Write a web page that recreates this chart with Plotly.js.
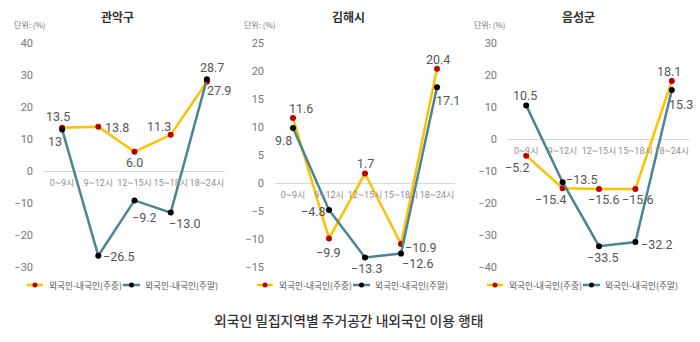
<!DOCTYPE html>
<html><head><meta charset="utf-8">
<script src="https://cdn.plot.ly/plotly-3.0.1.min.js"></script>
<style>html,body{margin:0;padding:0;background:#fff}#c{width:700px;height:342px}</style>
</head><body><div id="c"></div>
<script>
const categories = ["0~9시","9~12시","12~15시","15~18시","18~24시"];
const regions = ["관악구","김해시","음성군"];
const weekdayName = "외국인-내국인(주중)";
const weekendName = "외국인-내국인(주말)";
const gwanakWeekday = [13.5, 13.8, 6.0, 11.3, 27.9];
const gwanakWeekend = [13, -26.5, -9.2, -13.0, 28.7];
const gimhaeWeekday = [11.6, -9.9, 1.7, -10.9, 20.4];
const gimhaeWeekend = [9.8, -4.8, -13.3, -12.6, 17.1];
const eumseongWeekday = [-5.2, -15.4, -15.6, -15.6, 18.1];
const eumseongWeekend = [10.5, -13.5, -33.5, -32.2, 15.3];
const mainTitle = "외국인 밀집지역별 주거공간 내외국인 이용 행태";
const unitLabel = "단위: (%)";

const W = 700, H = 342;
const px = x => x / W, py = y => (H - y) / H;
const FONT = "Noto Sans CJK KR, Noto Sans, sans-serif";
const NUMFONT = "Roboto, Noto Sans, sans-serif";
const TICKFONT = "Roboto, Noto Sans CJK KR, sans-serif";
const YELLOW = "#FFC000", TEAL = "#4A8595", RED = "#C00000", BLACK = "#000000";

// label offsets (dx, dy in px; dy positive = down)
const panels = [
  {wd: gwanakWeekday, we: gwanakWeekend, xd: [44, 225], yr: [-30, 40], dt: 10, off: 0, titleX: 117,
   wdOff: [[-4,-11],[19,1],[0,11],[-12,-8],[12,9]],
   weOff: [[-7,12],[21,1],[10,17],[14,11],[5,-12]]},
  {wd: gimhaeWeekday, we: gimhaeWeekend, xd: [275, 455], yr: [-15, 25], dt: 5, off: 230, titleX: 348,
   wdOff: [[8,-10],[-1,14],[0,-10],[20,3],[1,-9]],
   weOff: [[-10,12],[-16,2],[2,11],[17,10],[11,13]]},
  {wd: eumseongWeekday, we: eumseongWeekend, xd: [508, 690], yr: [-40, 30], dt: 10, off: 460, titleX: 578,
   wdOff: [[-9,12],[-12,11],[5,11],[3,11],[-3,-10]],
   weOff: [[-1,-10],[19,-3],[4,11],[22,2],[9,14]]}
];
const yDom = [py(267), py(43)];
const lab = v => v === 13 ? "13" : (v < 0 ? "−" : "") + Math.abs(v).toFixed(1);

const data = [], layout = {
  width: W, height: H, margin: {l: 0, r: 0, t: 0, b: 0},
  paper_bgcolor: "#fff", plot_bgcolor: "#fff", showlegend: false,
  font: {family: FONT, color: "#555"}, annotations: [], shapes: []
};
panels.forEach((p, i) => {
  const n = i === 0 ? "" : String(i + 1);
  const zeroFrac = (0 - p.yr[0]) / (p.yr[1] - p.yr[0]);
  layout["xaxis" + n] = {
    domain: [px(p.xd[0]), px(p.xd[1])], range: [-0.5, 4.5], type: "category",
    anchor: "free", position: yDom[0] + zeroFrac * (yDom[1] - yDom[0]),
    showgrid: false, zeroline: false, showline: false, ticks: "", tickangle: 0,
    tickfont: {size: 9, color: "#8f8f8f", family: TICKFONT}, ticklabelstandoff: 5, fixedrange: true
  };
  layout["yaxis" + n] = {
    domain: yDom, range: p.yr, dtick: p.dt, tick0: 0, anchor: "x" + n,
    showgrid: false, zeroline: true, zerolinecolor: "#d9d9d9", zerolinewidth: 1,
    showline: false, ticks: "", ticklabelstandoff: 10,
    tickfont: {size: 11, color: "#777", family: NUMFONT}, fixedrange: true
  };
  data.push({
    type: "scatter", mode: "lines+markers", x: categories, y: p.wd, name: weekdayName,
    xaxis: "x" + n, yaxis: "y" + n, cliponaxis: false,
    line: {color: YELLOW, width: 2.5}, marker: {color: RED, size: 6}
  });
  data.push({
    type: "scatter", mode: "lines+markers", x: categories, y: p.we, name: weekendName,
    xaxis: "x" + n, yaxis: "y" + n, cliponaxis: false,
    line: {color: TEAL, width: 2.5}, marker: {color: BLACK, size: 6}
  });
  [[p.wd, p.wdOff], [p.we, p.weOff]].forEach(([vals, offs]) => {
    vals.forEach((v, k) => {
      layout.annotations.push({xref: "x" + n, yref: "y" + n, x: categories[k], y: v, text: lab(v),
        showarrow: false, xshift: offs[k][0], yshift: -offs[k][1], xanchor: "center", yanchor: "middle",
        font: {size: 12.5, color: "#555", family: NUMFONT}});
    });
  });
  layout.annotations.push({xref: "paper", yref: "paper", x: px(p.titleX), y: py(17), text: regions[i],
    showarrow: false, font: {size: 12, color: "#333", family: FONT, weight: 700}, xanchor: "center", yanchor: "middle"});
  layout.annotations.push({xref: "paper", yref: "paper", x: px(p.off + 12), y: py(24), text: unitLabel,
    showarrow: false, font: {size: 8, color: "#777", family: FONT}, xanchor: "left", yanchor: "middle"});
  const ly = py(285), o = p.off;
  layout.shapes.push({type: "line", xref: "paper", yref: "paper", x0: px(o + 27), x1: px(o + 43), y0: ly, y1: ly, line: {color: YELLOW, width: 2.5}});
  layout.shapes.push({type: "circle", xref: "paper", yref: "paper", x0: px(o + 32.5), x1: px(o + 37.5), y0: py(287.5), y1: py(282.5), fillcolor: RED, line: {width: 0}});
  layout.annotations.push({xref: "paper", yref: "paper", x: px(o + 48), y: ly, text: weekdayName, showarrow: false,
    font: {size: 8.7, color: "#555", family: FONT}, xanchor: "left", yanchor: "middle", borderpad: 0});
  layout.shapes.push({type: "line", xref: "paper", yref: "paper", x0: px(o + 123), x1: px(o + 140), y0: ly, y1: ly, line: {color: TEAL, width: 2.5}});
  layout.shapes.push({type: "circle", xref: "paper", yref: "paper", x0: px(o + 129), x1: px(o + 134), y0: py(287.5), y1: py(282.5), fillcolor: BLACK, line: {width: 0}});
  layout.annotations.push({xref: "paper", yref: "paper", x: px(o + 144), y: ly, text: weekendName, showarrow: false,
    font: {size: 8.7, color: "#555", family: FONT}, xanchor: "left", yanchor: "middle", borderpad: 0});
});
layout.annotations.push({xref: "paper", yref: "paper", x: px(348), y: py(320), text: mainTitle, showarrow: false,
  font: {size: 13.8, color: "#333", family: FONT, weight: 500}, xanchor: "center", yanchor: "middle"});
Plotly.newPlot("c", data, layout, {displayModeBar: false, staticPlot: true});
</script></body></html>
